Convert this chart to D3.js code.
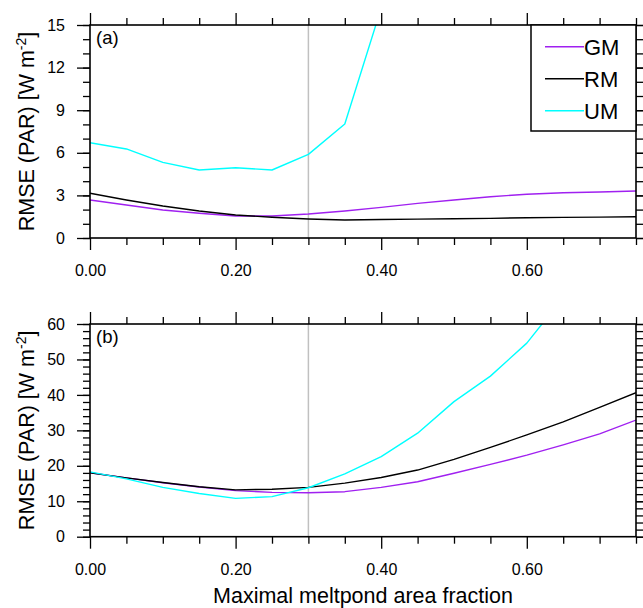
<!DOCTYPE html>
<html>
<head>
<meta charset="utf-8">
<script src="https://cdn.jsdelivr.net/npm/d3@7"></script>
<style>
  html, body { margin: 0; padding: 0; background: #fff; }
  svg { display: block; font-family: "Liberation Sans", Arial, Helvetica, sans-serif; }
</style>
</head>
<body>
<svg id="chart" width="643" height="608"></svg>
<script>
// Maximal meltpond area fraction (x) for every experiment
const fractions = [0.00, 0.05, 0.10, 0.15, 0.20, 0.25, 0.30, 0.35, 0.40, 0.45, 0.50, 0.55, 0.60, 0.65, 0.70, 0.75];

// Panel (a): RMSE of PAR
const gmA = [2.68, 2.32, 1.97, 1.74, 1.55, 1.55, 1.69, 1.90, 2.16, 2.44, 2.68, 2.91, 3.08, 3.19, 3.24, 3.31];
const rmA = [3.15, 2.68, 2.25, 1.90, 1.62, 1.46, 1.34, 1.27, 1.30, 1.33, 1.36, 1.38, 1.43, 1.45, 1.47, 1.50];
const umA = [6.71, 6.27, 5.33, 4.79, 4.95, 4.79, 5.89, 8.03, 16.2];

// Panel (b): RMSE of PAR
const gmB = [18.05, 16.6, 15.2, 14.0, 13.0, 12.5, 12.4, 12.7, 13.9, 15.5, 17.9, 20.4, 23.0, 25.9, 29.0, 32.9];
const rmB = [18.0, 16.6, 15.3, 14.1, 13.2, 13.4, 13.9, 15.1, 16.7, 18.8, 21.8, 25.2, 28.7, 32.4, 36.5, 40.6];
const umB = [18.3, 16.3, 13.9, 12.2, 10.8, 11.3, 13.8, 17.7, 22.6, 29.2, 38.1, 45.3, 54.6, 67.5];

const seriesNames = ["GM", "RM", "UM"];
const seriesColors = ["#a020f0", "#000000", "#00ffff"];

const xMajorTicks = [0.0, 0.2, 0.4, 0.6];
const xMinorTicks = [0.05, 0.10, 0.15, 0.25, 0.30, 0.35, 0.45, 0.50, 0.55, 0.65, 0.70, 0.75];
const refFraction = 0.30;

const panelA = { label: "(a)", yMax: 15, yMajor: [0, 3, 6, 9, 12, 15], yMinor: d3.range(0, 16, 1),
                 series: [gmA, rmA, umA] };
const panelB = { label: "(b)", yMax: 60, yMajor: [0, 10, 20, 30, 40, 50, 60], yMinor: d3.range(0, 61, 2),
                 series: [gmB, rmB, umB] };

const svg = d3.select("#chart");
const left = 90, right = 636;
const x = d3.scaleLinear().domain([0, 0.75]).range([left, right]);

const majorLen = 12, minorLen = 7;

function drawPanel(p, top, bottom, idx, withLegend) {
  const y = d3.scaleLinear().domain([0, p.yMax]).range([bottom, top]);
  const g = svg.append("g");

  const clipId = "clip" + idx;
  svg.append("clipPath").attr("id", clipId)
    .append("rect").attr("x", left).attr("y", top).attr("width", right - left).attr("height", bottom - top);

  // reference line at the chosen fraction
  g.append("line")
    .attr("x1", x(refFraction)).attr("x2", x(refFraction))
    .attr("y1", top).attr("y2", bottom)
    .attr("stroke", "#c0c0c0").attr("stroke-width", 1.5);

  // data lines
  const line = d3.line().x((d, i) => x(fractions[i])).y(d => y(d));
  p.series.forEach((vals, i) => {
    g.append("path")
      .datum(vals)
      .attr("clip-path", `url(#${clipId})`)
      .attr("fill", "none")
      .attr("stroke", seriesColors[i])
      .attr("stroke-width", 1.4)
      .attr("stroke-linejoin", "round")
      .attr("d", line);
  });

  const styleAxis = sel => {
    sel.selectAll(".domain").remove();
    sel.selectAll(".tick line").attr("stroke", "#000").attr("stroke-width", 1.3);
    sel.selectAll(".tick text").attr("fill", "#000").attr("font-size", 16);
  };

  // bottom axis
  g.append("g").attr("transform", `translate(0,${bottom})`)
    .call(d3.axisBottom(x).tickValues(xMajorTicks).tickSize(majorLen).tickPadding(15).tickFormat(d3.format(".2f")))
    .call(styleAxis);
  g.append("g").attr("transform", `translate(0,${bottom})`)
    .call(d3.axisBottom(x).tickValues(xMinorTicks).tickSize(minorLen).tickFormat(""))
    .call(styleAxis);
  // top axis
  g.append("g").attr("transform", `translate(0,${top})`)
    .call(d3.axisTop(x).tickValues(xMajorTicks).tickSize(majorLen).tickFormat(""))
    .call(styleAxis);
  g.append("g").attr("transform", `translate(0,${top})`)
    .call(d3.axisTop(x).tickValues(xMinorTicks).tickSize(minorLen).tickFormat(""))
    .call(styleAxis);
  // left axis
  g.append("g").attr("transform", `translate(${left},0)`)
    .call(d3.axisLeft(y).tickValues(p.yMajor).tickSize(13).tickPadding(12).tickFormat(d3.format("d")))
    .call(styleAxis);
  g.append("g").attr("transform", `translate(${left},0)`)
    .call(d3.axisLeft(y).tickValues(p.yMinor).tickSize(minorLen).tickFormat(""))
    .call(styleAxis);
  // right axis
  g.append("g").attr("transform", `translate(${right},0)`)
    .call(d3.axisRight(y).tickValues(p.yMajor).tickSize(13).tickFormat(""))
    .call(styleAxis);
  g.append("g").attr("transform", `translate(${right},0)`)
    .call(d3.axisRight(y).tickValues(p.yMinor).tickSize(minorLen).tickFormat(""))
    .call(styleAxis);

  // frame
  g.append("rect")
    .attr("x", left).attr("y", top).attr("width", right - left).attr("height", bottom - top)
    .attr("fill", "none").attr("stroke", "#000").attr("stroke-width", 1.6);

  // panel label
  g.append("text").attr("x", 96).attr("y", top + 19)
    .attr("font-size", 18.5).text(p.label);

  // y-axis title
  const yt = g.append("text")
    .attr("transform", `translate(34,${(top + bottom) / 2}) rotate(-90)`)
    .attr("text-anchor", "middle").attr("font-size", 21.5);
  yt.append("tspan").text("RMSE (PAR) [W m");
  yt.append("tspan").attr("font-size", 14).attr("dy", -8).text("-2");
  yt.append("tspan").attr("dy", 8).text("]");

  if (withLegend) {
    const lg = g.append("g");
    lg.append("rect").attr("x", 531).attr("y", top).attr("width", right - 531).attr("height", 106)
      .attr("fill", "#fff").attr("stroke", "#000").attr("stroke-width", 1.5);
    seriesNames.forEach((name, i) => {
      const cy = top + 21.7 + i * 32;
      lg.append("line").attr("x1", 545).attr("x2", 584).attr("y1", cy).attr("y2", cy)
        .attr("stroke", seriesColors[i]).attr("stroke-width", 1.4);
      lg.append("text").attr("x", 584).attr("y", cy + 7.8).attr("font-size", 22).text(name);
    });
  }
}

drawPanel(panelA, 25, 238, 0, true);
drawPanel(panelB, 324, 536.7, 1, false);

// shared x-axis title
svg.append("text")
  .attr("x", (left + right) / 2).attr("y", 603)
  .attr("text-anchor", "middle").attr("font-size", 21.5)
  .text("Maximal meltpond area fraction");
</script>
</body>
</html>
